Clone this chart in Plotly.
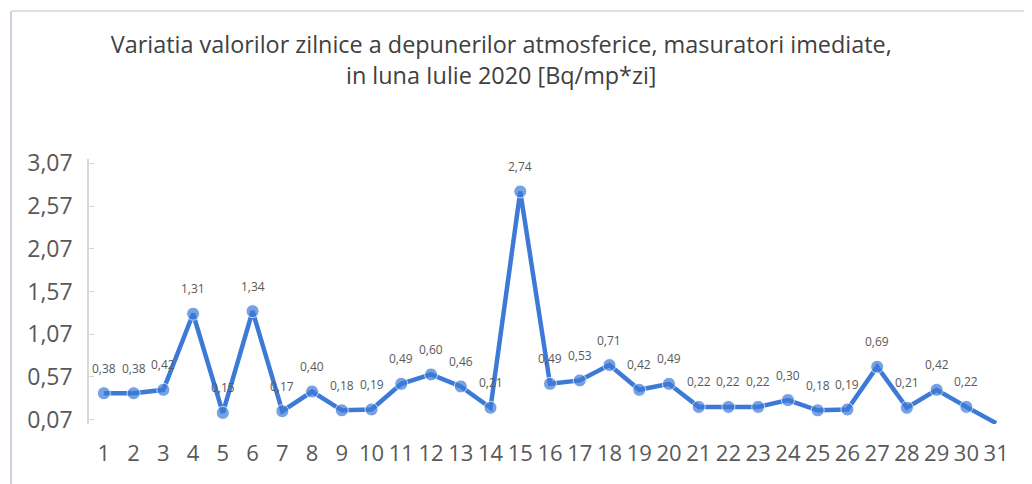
import plotly.graph_objects as go

days = list(range(1, 32))
values = [0.38, 0.38, 0.42, 1.31, 0.15, 1.34, 0.17, 0.40, 0.18, 0.19,
          0.49, 0.60, 0.46, 0.21, 2.74, 0.49, 0.53, 0.71, 0.42, 0.49,
          0.22, 0.22, 0.22, 0.30, 0.18, 0.19, 0.69, 0.21, 0.42, 0.22, 0.03]
labels = [f"{v:.2f}".replace(".", ",") for v in values[:30]] + [""]
y_ticks = [0.07, 0.57, 1.07, 1.57, 2.07, 2.57, 3.07]
y_tick_text = [f"{t:.2f}".replace(".", ",") for t in y_ticks]

W, H = 1032, 484
ml, mr, mt, mb = 81, 29, 151, 68
pw, ph = W - ml - mr, H - mt - mb

color = "#3d7ad8"
font_fam = "Open Sans, Liberation Sans"
fig = go.Figure()
fig.add_trace(go.Scatter(
    x=days, y=values, mode="lines+markers",
    line=dict(color=color, width=4.5),
    marker=dict(color=color, size=[13] * 30 + [0]),
    cliponaxis=False,
))

for d, v, t in zip(days, values, labels):
    if t:
        fig.add_annotation(x=d, y=v, text=t, showarrow=False,
                           xanchor="center", yanchor="middle", yshift=25,
                           font=dict(size=12, color="#595959", family=font_fam))

fig.update_layout(
    width=W, height=H,
    margin=dict(l=ml, r=mr, t=mt, b=mb),
    paper_bgcolor="white", plot_bgcolor="white",
    showlegend=False,
    title=dict(
        text="Variatia valorilor zilnice a depunerilor atmosferice, masuratori imediate,<br>in luna Iulie 2020 [Bq/mp*zi]",
        x=0.478, xanchor="center", y=0.906, yanchor="top",
        font=dict(size=23.4, color="#404040", family=font_fam),
    ),
    xaxis=dict(
        range=[0.5, 31.5], tickmode="array", tickvals=days,
        ticktext=[str(d) for d in days],
        showgrid=False, zeroline=False, showline=False, ticks="",
        automargin=False, ticklabelstandoff=14,
        tickfont=dict(size=22, color="#595959", family=font_fam),
    ),
    yaxis=dict(
        range=[0.02, 3.12], tickmode="array", tickvals=y_ticks, ticktext=y_tick_text,
        showgrid=False, zeroline=False, showline=True, linecolor="#d9d9d9", linewidth=1.5,
        ticks="inside", ticklen=5, tickcolor="#d9d9d9",
        automargin=False, ticklabelstandoff=10,
        tickfont=dict(size=23, color="#595959", family=font_fam),
    ),
)

# chart-area border (left and top edges visible in the scan)
fig.add_shape(type="line", xref="paper", yref="paper",
              x0=(3 - ml) / pw, x1=(3 - ml) / pw,
              y0=(H - mb - 484) / ph, y1=(H - mb - 3) / ph,
              line=dict(color="#b9c3d6", width=1.5), layer="above")
fig.add_shape(type="line", xref="paper", yref="paper",
              x0=(3 - ml) / pw, x1=(1032 - ml) / pw,
              y0=(H - mb - 3) / ph, y1=(H - mb - 3) / ph,
              line=dict(color="#d0d5de", width=1.5), layer="above")

fig.write_html("out.html")
